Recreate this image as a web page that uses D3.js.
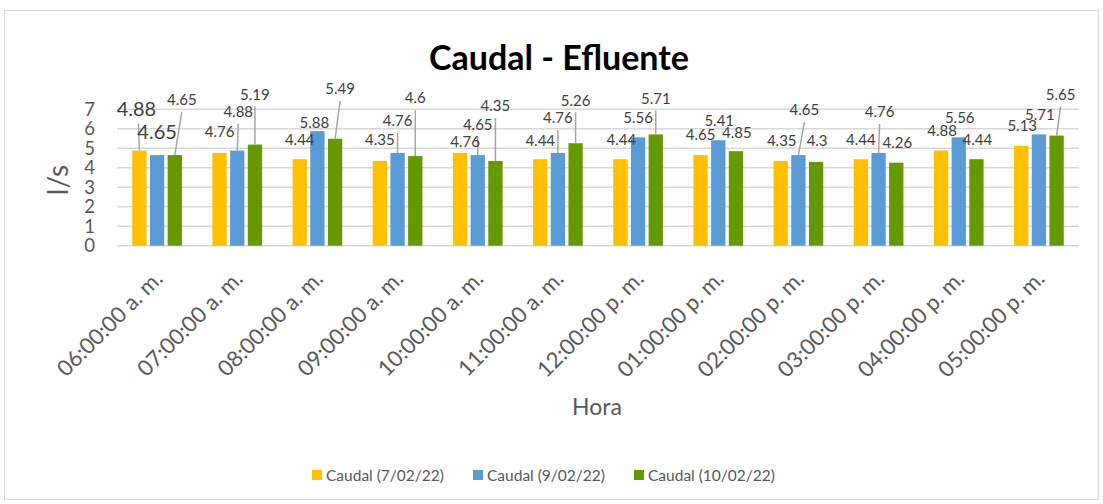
<!DOCTYPE html>
<html><head><meta charset="utf-8">
<script src="https://cdn.jsdelivr.net/npm/d3@7"></script>
<style>body{margin:0;background:#fff} svg{display:block}</style>
</head><body><svg id="c" width="1103" height="504"></svg>
<script>
const categories = ["06:00:00 a. m.","07:00:00 a. m.","08:00:00 a. m.","09:00:00 a. m.","10:00:00 a. m.","11:00:00 a. m.","12:00:00 p. m.","01:00:00 p. m.","02:00:00 p. m.","03:00:00 p. m.","04:00:00 p. m.","05:00:00 p. m."];
const seriesNames = ["Caudal (7/02/22)","Caudal (9/02/22)","Caudal (10/02/22)"];
const caudal0702 = [4.88,4.76,4.44,4.35,4.76,4.44,4.44,4.65,4.35,4.44,4.88,5.13];
const caudal0902 = [4.65,4.88,5.88,4.76,4.65,4.76,5.56,5.41,4.65,4.76,5.56,5.71];
const caudal1002 = [4.65,5.19,5.49,4.6,4.35,5.26,5.71,4.85,4.3,4.26,4.44,5.65];
const yTicks = [0,1,2,3,4,5,6,7];
const colors = ["#FFC000","#5B9BD5","#669900"];
// data-label displacement (px) from the bar top, per series
const labelShift0702 = [[-3,-42],[0,-21],[0,-20],[0,-21],[5,-11],[0,-19],[1,-20],[0,-20],[1,-20],[0,-20],[1,-20],[1,-20]];
const labelShift0902 = [[0,-23],[1,-39],[-3,-9],[0,-32],[0,-30],[0,-35],[0,-20],[1,-20],[6,-45],[1,-41],[1,-20],[1,-20]];
const labelShift1002 = [[7,-55],[0,-50],[5,-50],[0,-58],[0,-55],[0,-43],[0,-36],[1,-19],[1,-21],[1,-20],[1,-20],[4,-41]];
const largeLabels = ["0-0","1-0"]; // series-category

const seriesValues = [caudal0702, caudal0902, caudal1002];
const shifts = [labelShift0702, labelShift0902, labelShift1002];

const FONT = "Lato, 'Open Sans', sans-serif";
const svg = d3.select("#c");

svg.append("rect").attr("x",4.5).attr("y",10.5).attr("width",1094).attr("height",489)
  .attr("fill","#fff").attr("stroke","#d9d9d9").attr("stroke-width",1);

const x0 = d3.scaleBand().domain(categories).range([117,1079]).padding(0);
const x1 = d3.scaleBand().domain(d3.range(3)).range([0, x0.bandwidth()]).paddingInner(0.192).paddingOuter(0.862);
const y = d3.scaleLinear().domain([0,7]).range([245.7,109.3]);

// gridlines
svg.append("g").selectAll("line").data(yTicks).join("line")
  .attr("x1",117).attr("x2",1079).attr("y1",d=>y(d)).attr("y2",d=>y(d))
  .attr("stroke","#d9d9d9").attr("stroke-width",1.5);

// y axis labels
const yAxis = d3.axisLeft(y).tickValues(yTicks).tickSize(0).tickPadding(0).tickFormat(d3.format("d"));
const gy = svg.append("g").attr("transform","translate(95,0)").call(yAxis);
gy.select(".domain").remove();
gy.selectAll("text").attr("font-family",FONT).attr("font-size",18.5).attr("fill","#595959");

// x axis labels
const xAxis = d3.axisBottom(x0).tickSize(0).tickPadding(0);
const gx = svg.append("g").attr("transform","translate(0,275)").call(xAxis);
gx.select(".domain").remove();
gx.selectAll("text").attr("font-family",FONT).attr("font-size",22).attr("fill","#595959")
  .attr("text-anchor","end").attr("dy",0).attr("y",0)
  .attr("transform","translate(7,5) rotate(-45)");

// bars
const groups = svg.append("g").selectAll("g").data(categories).join("g")
  .attr("transform",d=>`translate(${x0(d)},0)`);
const barData = (c,i) => seriesValues.map((vals,s)=>({s, i, v: vals[i]}));
groups.selectAll("rect").data((c,i)=>barData(c,i)).join("rect")
  .attr("x",d=>x1(d.s)).attr("width",x1.bandwidth())
  .attr("y",d=>y(d.v)).attr("height",d=>y(0)-y(d.v))
  .attr("fill",d=>colors[d.s]);

// data labels with leader lines
const labels = [];
seriesValues.forEach((vals,s)=>vals.forEach((v,i)=>{
  const bx = x0(categories[i]) + x1(s) + x1.bandwidth()/2;
  const by = y(v);
  const [dx,dy] = shifts[s][i];
  labels.push({s,i,v,bx,by,lx:bx+dx,ly:by+dy,large:largeLabels.includes(s+"-"+i),leader:dy<-27});
}));
const lg = svg.append("g");
lg.selectAll("line").data(labels.filter(d=>d.leader)).join("line")
  .attr("x1",d=>d.lx+(d.large?2:0)).attr("y1",d=>d.ly+(d.large?15:12))
  .attr("x2",d=>d.bx).attr("y2",d=>d.by)
  .attr("stroke","#a6a6a6").attr("stroke-width",1.5);
lg.selectAll("text").data(labels).join("text")
  .attr("x",d=>d.lx).attr("y",d=>d.ly).attr("dy","0.36em")
  .attr("text-anchor","middle").attr("font-family",FONT)
  .attr("font-size",d=>d.large?20:15).attr("fill","#404040")
  .text(d=>String(d.v));

// title
svg.append("text").attr("x",559).attr("y",70).attr("text-anchor","middle")
  .attr("font-family",FONT).attr("font-weight","bold").attr("font-size",34).attr("fill","#000")
  .text("Caudal - Efluente");

// axis titles
svg.append("text").attr("transform","translate(68,180) rotate(-90)").attr("text-anchor","middle")
  .attr("font-family",FONT).attr("font-size",28).attr("fill","#595959").text("l/s");
svg.append("text").attr("x",597).attr("y",415).attr("text-anchor","middle")
  .attr("font-family",FONT).attr("font-size",23).attr("fill","#595959").text("Hora");

// legend
const legendX = [312, 473, 634];
const leg = svg.append("g").selectAll("g").data(seriesNames).join("g")
  .attr("transform",(d,i)=>`translate(${legendX[i]},470)`);
leg.append("rect").attr("width",10).attr("height",10).attr("fill",(d,i)=>colors[i]);
leg.append("text").attr("x",14).attr("y",5).attr("dy","0.36em")
  .attr("font-family",FONT).attr("font-size",15.5).attr("fill","#595959").text(d=>d);
</script></body></html>
